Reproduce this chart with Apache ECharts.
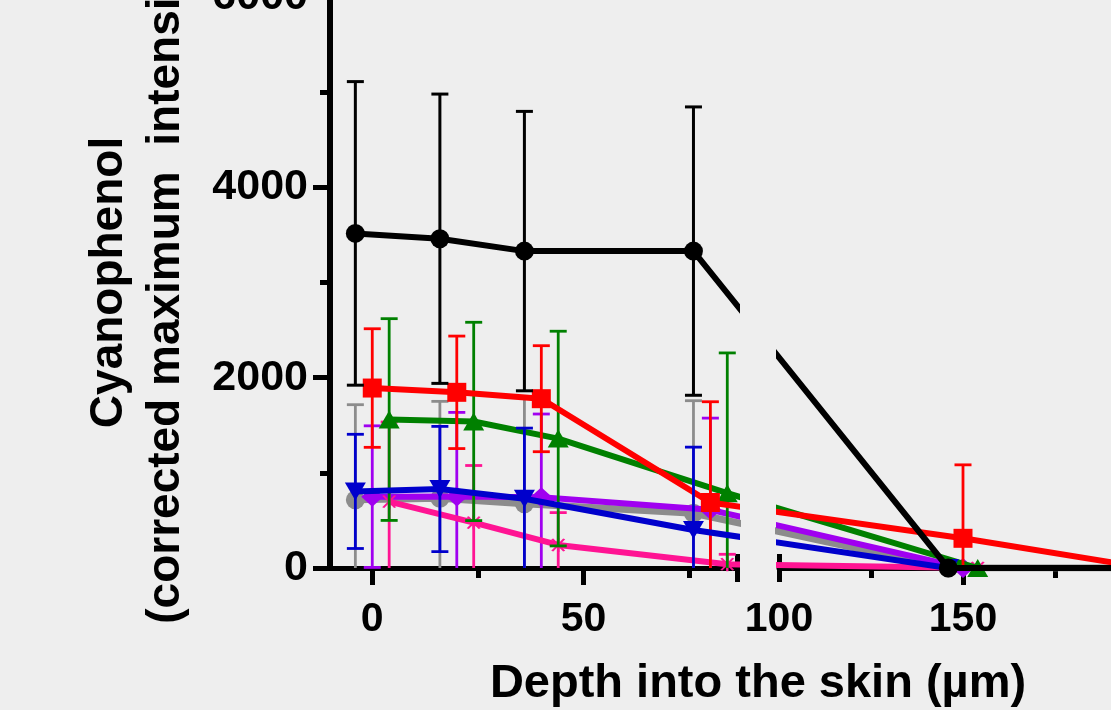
<!DOCTYPE html>
<html>
<head>
<meta charset="utf-8">
<script src="https://cdn.jsdelivr.net/npm/echarts@6/dist/echarts.min.js"></script>
<style>
  html, body { margin: 0; padding: 0; background: #eeeeee; }
  #chart { width: 1111px; height: 710px; }
</style>
</head>
<body>
<div id="chart"></div>
<script>
const FONT = '"Liberation Sans", Arial, Helvetica, sans-serif';

// depth (um) of each measurement
const depths = [0, 20, 40, 80, 150, 200];

// mean and SD per formulation
const blackMean = [3516, 3460, 3330, 3330, 0, 0];
const blackSd = [1595, 1520, 1468, 1515, 0, 0];
const redMean = [1891, 1846, 1779, 688, 312, 0];
const redSd = [623, 591, 557, 1059, 772, 0];
const greenMean = [1560, 1540, 1360, 786, 0, 0];
const greenSd = [1060, 1042, 1128, 1474, 0, 0];
const blueMean = [805, 830, 728, 400, 0, 0];
const blueSd = [600, 658, 742, 870, 0, 0];
const grayMean = [716, 733, 674, 575, 0, 0];
const graySd = [1000, 1018, 1116, 1183, 0, 0];
const purpleMean = [750, 751, 744, 611, 0, 0];
const purpleSd = [744, 884, 874, 964, 0, 0];
const pinkMean = [698, 477, 242, 40, 0, 0];
const pinkSd = [836, 600, 340, 104, 0, 0];

// axes
const yMax = 6000;
const yStep = 2000;
const leftRange = [-10, 86.3];
const rightRange = [100, 200];
const leftLabels = [0, 50];
const leftMinor = [25, 75];
const rightLabels = [100, 150];
const rightMajor = [150];
const rightMinor = [125, 175];

const yTitle = 'Cyanophenol\n(corrected maximum  intensity)';
const xTitle = 'Depth into the skin (\u00b5m)';

const asterisk = 'path://M-1,10 L1,10 L1,-10 L-1,-10 Z M4.134,9.16 L5.866,8.16 L-4.134,-9.16 L-5.866,-8.16 Z M-5.866,8.16 L-4.134,9.16 L5.866,-8.16 L4.134,-9.16 Z';

// drawn bottom to top
const groups = [
  { mean: grayMean, sd: graySd, color: '#8c8c8c', symbol: 'circle', size: 19, shift: -4, width: 7 },
  { mean: purpleMean, sd: purpleSd, color: '#a000f0', symbol: 'diamond', size: [22, 20], shift: 0, width: 6 },
  { mean: pinkMean, sd: pinkSd, color: '#ff1493', symbol: asterisk, size: 14, shift: 4, width: 6 },
  { mean: greenMean, sd: greenSd, color: '#008000', symbol: 'triangle', size: [21, 18], shift: 4, width: 6 },
  { mean: redMean, sd: redSd, color: '#ff0000', symbol: 'rect', size: 19, shift: 0, width: 6 },
  { mean: blueMean, sd: blueSd, color: '#0000cc', symbol: 'triangle', rotate: 180, size: [21, 18], shift: -4, width: 6 },
  { mean: blackMean, sd: blackSd, color: '#000000', symbol: 'circle', size: 19, shift: -4, width: 6 }
];

const axisFont = { fontFamily: FONT, fontWeight: 'bold', fontSize: 41, color: '#000' };
const yFont = { fontFamily: FONT, fontWeight: 'bold', fontSize: 43, color: '#000' };
const black = { color: '#000', width: 5 };

function tickAxis(grid, range, values, len, inside, withLine, labels) {
  return {
    gridIndex: grid, type: 'value', position: 'bottom',
    min: range[0], max: range[1],
    axisLine: { show: withLine, onZero: false, lineStyle: black },
    splitLine: { show: false },
    axisTick: { show: true, customValues: values, length: len, inside: inside, lineStyle: black },
    axisLabel: labels ? Object.assign({ customValues: labels, margin: 31 }, axisFont) : { show: false }
  };
}

const chart = echarts.init(document.getElementById('chart'));

chart.setOption({
  backgroundColor: '#eeeeee',
  animation: false,
  grid: [
    { left: 330, top: -3, width: 407, bottom: 142, outerBoundsMode: 'none' },
    { left: 779, top: -3, width: 368, bottom: 142, outerBoundsMode: 'none' }
  ],
  xAxis: [
    tickAxis(0, leftRange, leftLabels, 17, false, true, leftLabels),
    tickAxis(0, leftRange, leftMinor, 10, false, false, null),
    tickAxis(0, leftRange, [leftRange[1]], 14, false, false, null),
    tickAxis(0, leftRange, [leftRange[1]], 14, true, false, null),
    tickAxis(1, rightRange, rightMajor, 17, false, true, rightLabels),
    tickAxis(1, rightRange, rightMinor, 10, false, false, null),
    tickAxis(1, rightRange, [rightRange[0]], 14, false, false, null),
    tickAxis(1, rightRange, [rightRange[0]], 14, true, false, null)
  ],
  yAxis: [
    {
      gridIndex: 0, type: 'value', position: 'left',
      min: 0, max: yMax, interval: yStep,
      axisLine: { show: true, onZero: false, lineStyle: { color: '#000', width: 6 } },
      axisTick: { show: true, length: 17, lineStyle: black },
      minorTick: { show: true, splitNumber: 2, length: 10, lineStyle: black },
      splitLine: { show: false },
      minorSplitLine: { show: false },
      axisLabel: Object.assign({ margin: 22, formatter: function (v) { return String(v); } }, yFont),
      name: yTitle,
      nameLocation: 'middle',
      nameRotate: 90,
      nameGap: 135,
      nameTextStyle: { fontFamily: FONT, fontWeight: 'bold', fontSize: 46, lineHeight: 57, color: '#000' }
    },
    { gridIndex: 1, type: 'value', min: 0, max: yMax, show: false }
  ],
  graphic: [{
    type: 'text', x: 758, y: 684, silent: true,
    style: {
      text: xTitle, fill: '#000',
      fontFamily: FONT, fontWeight: 'bold', fontSize: 47,
      align: 'center', verticalAlign: 'middle',
      textAlign: 'center', textVerticalAlign: 'middle'
    }
  }]
});

// move an x value from one segment's scale to the other through pixels
function across(fromAxis, toAxis, x) {
  const px = chart.convertToPixel({ xAxisIndex: fromAxis }, x);
  return chart.convertFromPixel({ xAxisIndex: toAxis }, px);
}

function barRenderer(color, lw) {
  return function (params, api) {
    const x = api.value(0);
    const top = api.coord([x, api.value(2)]);
    const bot = api.coord([x, api.value(1)]);
    const st = { stroke: color, lineWidth: lw };
    const half = 8.5;
    const kids = [
      { type: 'line', shape: { x1: top[0], y1: top[1], x2: bot[0], y2: bot[1] }, style: st },
      { type: 'line', shape: { x1: top[0] - half, y1: top[1], x2: top[0] + half, y2: top[1] }, style: st }
    ];
    if (api.value(3)) {
      kids.push({ type: 'line', shape: { x1: bot[0] - half, y1: bot[1], x2: bot[0] + half, y2: bot[1] }, style: st });
    }
    return { type: 'group', children: kids };
  };
}

const series = [];
groups.forEach(function (g, gi) {
  const pts = depths.map(function (d, i) { return [d + g.shift, g.mean[i], g.sd[i]]; });
  const z = 10 + gi * 2;
  const lw = g.color === '#000000' ? 3 : 2.8;

  // left segment
  const leftIdx = pts.map(function (p, i) { return i; }).filter(function (i) { return pts[i][0] <= leftRange[1]; });
  const lastL = leftIdx[leftIdx.length - 1];
  const leftData = leftIdx.map(function (i) { return [pts[i][0], pts[i][1]]; });
  if (lastL + 1 < pts.length) {
    leftData.push({ value: [across(4, 0, pts[lastL + 1][0]), pts[lastL + 1][1]], symbol: 'none' });
  }
  // right segment
  const rightIdx = pts.map(function (p, i) { return i; }).filter(function (i) { return pts[i][0] >= rightRange[0]; });
  const firstR = rightIdx[0];
  const rightData = [];
  if (firstR > 0) {
    rightData.push({ value: [across(0, 4, pts[firstR - 1][0]), pts[firstR - 1][1]], symbol: 'none' });
  }
  rightIdx.forEach(function (i) { rightData.push([pts[i][0], pts[i][1]]); });

  [[0, 0, leftData, leftIdx], [4, 1, rightData, rightIdx]].forEach(function (seg) {
    const bars = seg[3].filter(function (i) { return pts[i][2] > 0; }).map(function (i) {
      const lo = pts[i][1] - pts[i][2];
      return [pts[i][0], Math.max(0, lo), pts[i][1] + pts[i][2], lo >= 0 ? 1 : 0];
    });
    series.push({
      type: 'custom', xAxisIndex: seg[0], yAxisIndex: seg[1], z: z, silent: true,
      renderItem: barRenderer(g.color, lw), data: bars
    });
    series.push({
      type: 'line', xAxisIndex: seg[0], yAxisIndex: seg[1], z: z + 1, silent: true,
      data: seg[2], clip: true,
      symbol: g.symbol, symbolSize: g.size, symbolRotate: g.rotate || 0, symbolKeepAspect: false,
      showAllSymbol: true,
      lineStyle: { color: g.color, width: g.width },
      itemStyle: { color: g.color, opacity: 1 },
      emphasis: { disabled: true }
    });
  });
});

chart.setOption({ series: series });
</script>
</body>
</html>
